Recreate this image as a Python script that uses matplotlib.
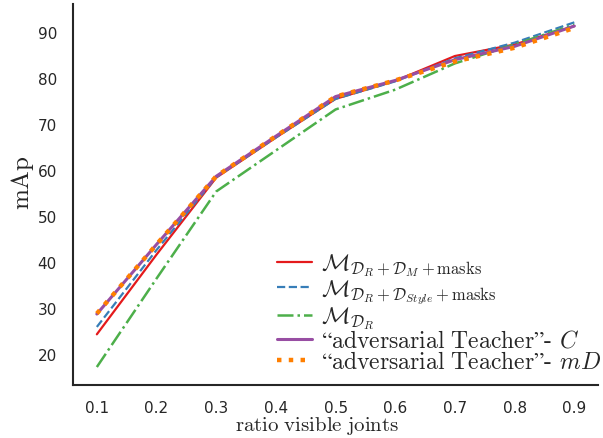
import numpy as np
import matplotlib
matplotlib.use("Agg")
import matplotlib.pyplot as plt
import seaborn as sns

sns.set_style("white")
plt.rcParams['mathtext.fontset'] = 'cm'
plt.rcParams['font.family'] = ['DejaVu Sans']
plt.rcParams['axes.unicode_minus'] = False

ratio = [0.1, 0.2, 0.3, 0.4, 0.5, 0.6, 0.7, 0.8, 0.9]

map_dr_dm = [24.5, 41.8, 58.5, 67.2, 75.6, 79.5, 84.9, 87.4, 91.4]
map_dr_style = [26.1, 42.8, 58.6, 67.2, 75.6, 79.4, 84.4, 87.8, 92.2]
map_dr = [17.4, 36.6, 55.5, 64.4, 73.3, 77.6, 83.3, 87.4, 91.7]
map_adv_c = [28.9, 44.0, 58.8, 67.5, 76.1, 79.6, 84.1, 87.0, 91.4]
map_adv_md = [29.0, 44.0, 58.8, 67.5, 76.1, 79.6, 83.7, 86.7, 91.0]

labels = [r'$\mathcal{M}_{\mathcal{D}_R+\mathcal{D}_M+\mathrm{masks}}$',
          r'$\mathcal{M}_{\mathcal{D}_R+\mathcal{D}_{Style}+\mathrm{masks}}$',
          r'$\mathcal{M}_{\mathcal{D}_R}$',
          r'$\mathrm{“adversarial\ Teacher”}$- $C$',
          r'$\mathrm{“adversarial\ Teacher”}$- $mD$']

pal = sns.color_palette("Set1")

fig, ax = plt.subplots(figsize=(6.03, 4.38), dpi=100)
fig.subplots_adjust(left=0.121, right=0.992, bottom=0.121, top=0.991)

ax.plot(ratio, map_dr_dm, color=pal[0], lw=1.6, label=labels[0])
ax.plot(ratio, map_dr_style, color=pal[1], lw=1.6, ls='--', label=labels[1])
ax.plot(ratio, map_dr, color=pal[2], lw=1.8, ls='-.', label=labels[2])
ax.plot(ratio, map_adv_c, color=pal[3], lw=2.2, label=labels[3])
ax.plot(ratio, map_adv_md, color=pal[4], lw=3.2, ls=':', label=labels[4])

ax.set_ylim(13.5, 96.2)
ax.set_xticks(ratio)
ax.set_yticks([20, 30, 40, 50, 60, 70, 80, 90])
ax.tick_params(axis='x', pad=8, labelsize=11)
ax.tick_params(axis='y', pad=8, labelsize=11)

ax.set_xlabel(r'$\mathrm{ratio\ visible\ joints}$', fontsize=15, va='top')
ax.xaxis.set_label_coords(0.465, -0.08)
ax.set_ylabel(r'$\mathrm{mAp}$', fontsize=18, va='center')
ax.yaxis.set_label_coords(-0.097, 0.53)

leg = ax.legend(loc='lower right', bbox_to_anchor=(1.006, 0.03), frameon=False,
                prop={'family': ['cmr10', 'DejaVu Serif'], 'size': 17},
                handlelength=1.45, labelspacing=-0.05, handletextpad=0.4,
                borderpad=0.0, borderaxespad=0.0)

sns.despine(ax=ax)
for s in ['left', 'bottom']:
    ax.spines[s].set_color('.15')
    ax.spines[s].set_linewidth(1.5)

fig.savefig("out.png", dpi=100)
